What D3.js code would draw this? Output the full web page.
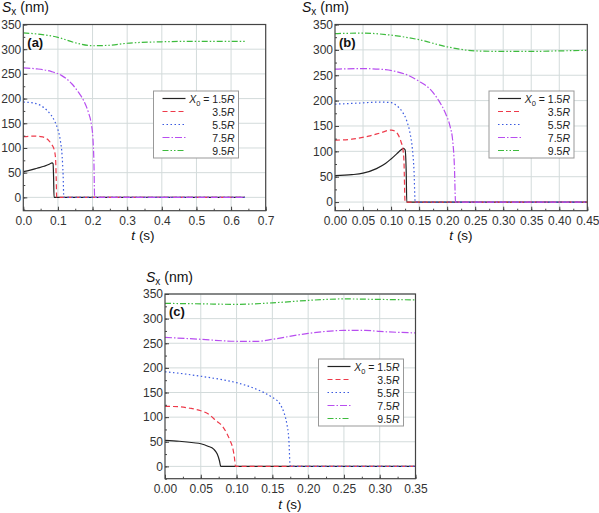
<!DOCTYPE html>
<html><head><meta charset="utf-8">
<script src="https://cdn.jsdelivr.net/npm/d3@7/dist/d3.min.js"></script>
<style>body{margin:0;background:#fff;font-family:"Liberation Sans",Arial,sans-serif}</style>
</head><body>
<svg id="chart" width="599" height="513"></svg>
<script>
// ---------- data: [t (s), Sx (nm)] ----------
const seriesNames = ["1.5R","3.5R","5.5R","7.5R","9.5R"];
const colors = ["#222222","#ee3a4a","#3a5ae0","#b84ef0","#3dbb3d"];
const dashes = [null,"5,3","1.5,2.5","7,2,1.5,2","6,2,1.5,2,1.5,2"];

const a15 = [[0,52],[0.02,55],[0.04,59],[0.06,63],[0.075,67],[0.083,70],[0.086,68],[0.0875,40],[0.0888,0],[0.64,0]];
const a35 = [[0,123],[0.03,124],[0.05,123],[0.065,120],[0.075,114],[0.083,106],[0.089,97],[0.093,80],[0.095,40],[0.0965,0],[0.64,0]];
const a55 = [[0,193],[0.03,191],[0.05,186],[0.07,175],[0.09,155],[0.1,137],[0.107,115],[0.112,85],[0.115,45],[0.117,0],[0.64,0]];
const a75 = [[0,262],[0.04,260],[0.08,255],[0.11,247],[0.14,230],[0.16,212],[0.175,195],[0.188,172],[0.196,150],[0.201,120],[0.204,70],[0.206,0],[0.64,0]];
const a95 = [[0,333],[0.05,330],[0.1,324],[0.15,313],[0.2,307],[0.25,308],[0.3,312],[0.4,315],[0.5,316],[0.64,316]];

const b15 = [[0,52],[0.03,54],[0.05,57],[0.074,66],[0.09,76],[0.1,85],[0.11,95],[0.118,103],[0.122,106],[0.125,103],[0.127,60],[0.128,0],[0.45,0]];
const b35 = [[0,122],[0.03,124],[0.06,130],[0.08,136],[0.1,142],[0.107,140],[0.113,132],[0.118,118],[0.121,105],[0.123,80],[0.125,0],[0.45,0]];
const b55 = [[0,193],[0.04,195],[0.08,197],[0.1,196],[0.11,190],[0.12,178],[0.128,160],[0.134,135],[0.138,105],[0.141,60],[0.143,0],[0.45,0]];
const b75 = [[0,262],[0.05,263],[0.09,261],[0.11,257],[0.13,250],[0.15,238],[0.17,222],[0.185,200],[0.197,175],[0.205,150],[0.21,120],[0.213,70],[0.215,0],[0.45,0]];
const b95 = [[0,332],[0.05,333],[0.1,329],[0.15,320],[0.2,306],[0.25,298],[0.3,297],[0.35,297],[0.4,298],[0.45,299]];

const c15 = [[0,53],[0.02,51],[0.04,48],[0.05,46],[0.06,41],[0.068,35],[0.073,25],[0.076,12],[0.078,0],[0.35,0]];
const c35 = [[0,122],[0.02,121],[0.035,118],[0.05,113],[0.06,107],[0.072,92],[0.08,82],[0.086,68],[0.091,52],[0.095,35],[0.097,18],[0.0985,0],[0.35,0]];
const c55 = [[0,192],[0.02,189],[0.05,183],[0.08,176],[0.1,170],[0.12,161],[0.138,150],[0.15,140],[0.16,128],[0.166,110],[0.17,88],[0.173,55],[0.175,0],[0.35,0]];
const c75 = [[0,262],[0.05,258],[0.1,254],[0.13,254],[0.15,258],[0.2,270],[0.25,276],[0.28,276],[0.3,274],[0.35,271]];
const c95 = [[0,331],[0.05,330],[0.1,329],[0.15,332],[0.2,337],[0.25,340],[0.3,339],[0.35,338]];

const xTicksA = [0,0.1,0.2,0.3,0.4,0.5,0.6,0.7];
const xTicksB = [0,0.05,0.1,0.15,0.2,0.25,0.3,0.35,0.4,0.45];
const xTicksC = [0,0.05,0.1,0.15,0.2,0.25,0.3,0.35];
const yTicks = [0,50,100,150,200,250,300,350];

const panels = [
  {tag:"(a)", data:[a15,a35,a55,a75,a95], xd:[0,0.7], yd:[-27,350], xr:[23.3,265.7], yr:[210.7,24.5], xt:xTicksA, xm:0.05, fmt:".1f", leg:[153.5,91], sx:[2,11.5], tx:[143,240]},
  {tag:"(b)", data:[b15,b35,b55,b75,b95], xd:[0,0.45], yd:[-17,350], xr:[335,587.3], yr:[210.7,24.5], xt:xTicksB, xm:0.025, fmt:".2f", leg:[489,91], sx:[302,11.5], tx:[461,240]},
  {tag:"(c)", data:[c15,c35,c55,c75,c95], xd:[0,0.35], yd:[-25,350], xr:[165,415.5], yr:[478.7,294], xt:xTicksC, xm:0.025, fmt:".2f", leg:[318.5,359], sx:[146,282], tx:[290,509]}
];

const svg = d3.select("#chart");
const gridC = "#d3dbdb", axisC = "#444", txtC = "#333";
const FONT = "Liberation Sans, Arial, sans-serif";

panels.forEach(p => {
  const x = d3.scaleLinear().domain(p.xd).range(p.xr);
  const y = d3.scaleLinear().domain(p.yd).range(p.yr);
  const g = svg.append("g");
  const [x0,x1] = p.xr, [yb,yt] = p.yr;
  // grid
  g.selectAll(".gx").data(p.xt.filter(v=>v>p.xd[0] && v<p.xd[1])).enter().append("line")
    .attr("x1",d=>x(d)).attr("x2",d=>x(d)).attr("y1",yt).attr("y2",yb).attr("stroke",gridC).attr("stroke-width",1);
  g.selectAll(".gy").data(yTicks).enter().append("line")
    .attr("x1",x0).attr("x2",x1).attr("y1",d=>y(d)).attr("y2",d=>y(d)).attr("stroke",gridC).attr("stroke-width",1);
  // lines
  const clipId = "clip"+p.tag.replace(/\W/g,"");
  svg.append("clipPath").attr("id",clipId).append("rect").attr("x",x0).attr("y",yt).attr("width",x1-x0).attr("height",yb-yt);
  const line = d3.line().x(d=>x(d[0])).y(d=>y(d[1])).curve(d3.curveMonotoneX);
  p.data.forEach((s,i)=>{
    g.append("path").datum(s).attr("d",line).attr("fill","none").attr("clip-path",`url(#${clipId})`)
      .attr("stroke",colors[i]).attr("stroke-width",1.2).attr("stroke-dasharray",dashes[i]);
  });
  // axes (ticks pointing inward)
  const xMinor = d3.range(p.xd[0], p.xd[1]+1e-9, p.xm);
  const yMinor = d3.range(-25, 351, 25).filter(v=>v>=p.yd[0]);
  const style = s=>{s.select(".domain").remove(); s.selectAll("line").attr("stroke",axisC);
      s.selectAll("text").attr("fill",txtC).style("font-size","12px").style("font-family",FONT);};
  g.append("g").attr("transform",`translate(0,${yb})`)
    .call(d3.axisBottom(x).tickValues(xMinor).tickSize(-2).tickFormat("")).call(style);
  g.append("g").attr("transform",`translate(0,${yb})`)
    .call(d3.axisBottom(x).tickValues(p.xt).tickSize(-4).tickPadding(6).tickFormat(d3.format(p.fmt))).call(style);
  g.append("g").attr("transform",`translate(${x0},0)`)
    .call(d3.axisLeft(y).tickValues(yMinor).tickSize(-2).tickFormat("")).call(style);
  g.append("g").attr("transform",`translate(${x0},0)`)
    .call(d3.axisLeft(y).tickValues(yTicks).tickSize(-4).tickPadding(2).tickFormat(d3.format("d"))).call(style);
  // frame
  g.append("rect").attr("x",x0).attr("y",yt).attr("width",x1-x0).attr("height",yb-yt)
    .attr("fill","none").attr("stroke",axisC).attr("stroke-width",1.2);
  // panel tag
  g.append("text").attr("x",x0+4).attr("y",yt+22).text(p.tag)
    .style("font-weight","bold").style("font-size","13px").attr("fill","#111");
  // axis titles
  const st = g.append("text").attr("x",p.sx[0]).attr("y",p.sx[1]).style("font-size","14px").attr("fill","#111");
  st.append("tspan").text("S").style("font-style","italic");
  st.append("tspan").text("x").attr("dy",3).style("font-size","10px");
  st.append("tspan").text(" (nm)").attr("dy",-3);
  const tt = g.append("text").attr("x",p.tx[0]).attr("y",p.tx[1]).attr("text-anchor","middle").style("font-size","13.5px").attr("fill","#111");
  tt.append("tspan").text("t").style("font-style","italic");
  tt.append("tspan").text(" (s)");
  // legend
  const [lx,ly] = p.leg;
  const lg = g.append("g").attr("transform",`translate(${lx},${ly})`);
  lg.append("rect").attr("width",85).attr("height",67).attr("fill","#fff").attr("stroke","#999").attr("stroke-width",1);
  seriesNames.forEach((n,i)=>{
    const cy = 7.5 + i*13;
    lg.append("line").attr("x1",9).attr("x2",32).attr("y1",cy).attr("y2",cy)
      .attr("stroke",colors[i]).attr("stroke-width",1.2).attr("stroke-dasharray",dashes[i]);
    const t = lg.append("text").attr("x",81).attr("y",cy+4).attr("text-anchor","end").style("font-size","10.5px").attr("fill","#222");
    if(i===0){
      t.append("tspan").text("X").style("font-style","italic");
      t.append("tspan").text("0").attr("dy",3).style("font-size","7.5px");
      t.append("tspan").text(" = 1.5").attr("dy",-3);
      t.append("tspan").text("R").style("font-style","italic");
    } else {
      t.append("tspan").text(n.slice(0,-1));
      t.append("tspan").text("R").style("font-style","italic");
    }
  });
});
</script>
</body></html>
